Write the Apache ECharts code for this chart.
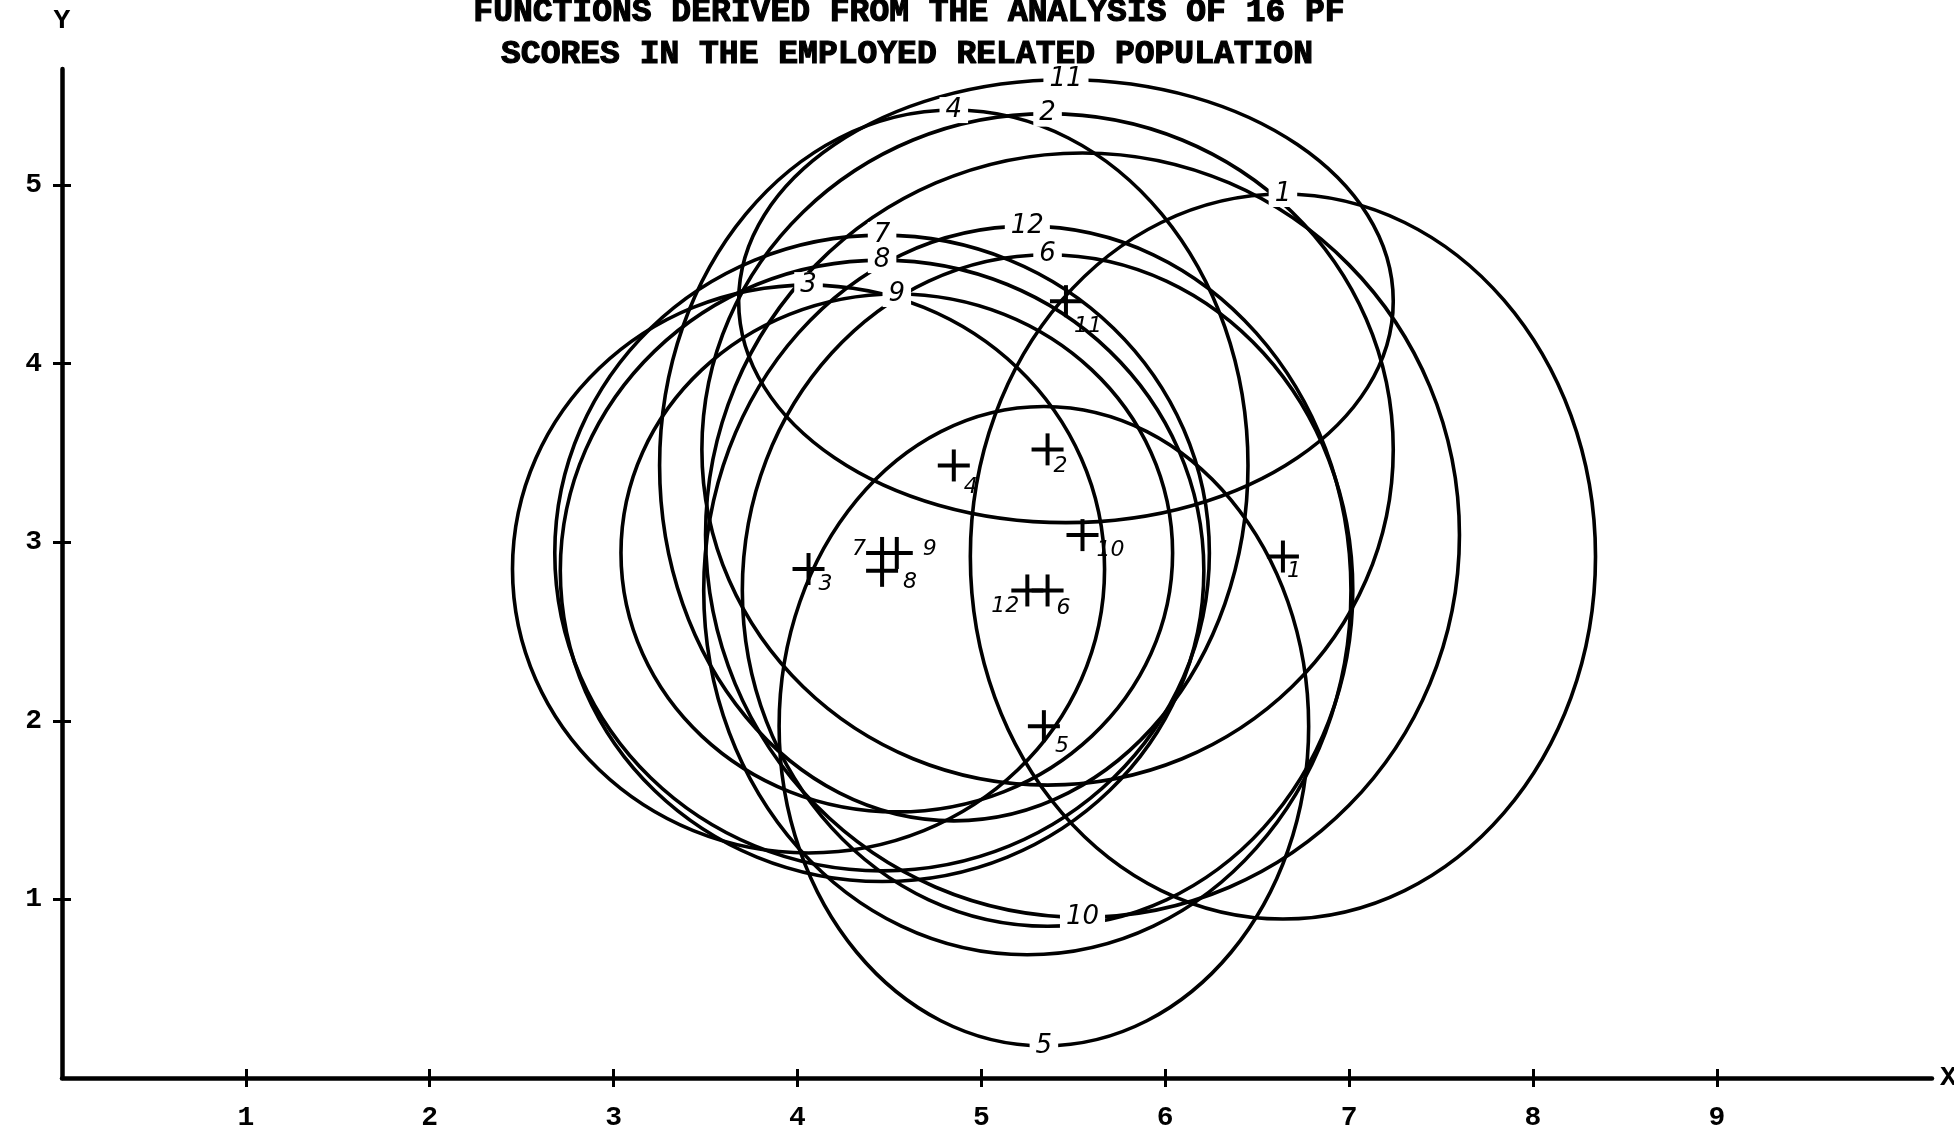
<!DOCTYPE html>
<html>
<head>
<meta charset="utf-8">
<script src="https://cdn.jsdelivr.net/npm/echarts@6/dist/echarts.min.js"></script>
<style>
  html, body { margin: 0; padding: 0; background: #fff; }
  #chart { width: 1954px; height: 1136px; }
</style>
</head>
<body>
<div id="chart"></div>
<script>
// group centroids (the "+" marks) and the ellipses drawn round them
const groups   = ['1', '2', '3', '4', '5', '6', '7', '8', '9', '10', '11', '12'];
const centerX  = [6.64, 5.36, 4.06, 4.85, 5.34, 5.36, 4.46, 4.46, 4.54, 5.55, 5.46, 5.25];
const centerY  = [2.92, 3.52, 2.85, 3.43, 1.97, 2.73, 2.94, 2.84, 2.94, 3.04, 4.35, 2.73];
const radiusX  = [1.70, 1.88, 1.61, 1.60, 1.44, 1.66, 1.78, 1.75, 1.50, 2.05, 1.78, 1.76];
const radiusY  = [2.03, 1.88, 1.59, 1.99, 1.79, 1.88, 1.78, 1.74, 1.45, 2.14, 1.24, 2.04];
// ellipses whose number is written at the bottom instead of the top
const tagAtBottom = ['5', '10'];

const xTicks = [1, 2, 3, 4, 5, 6, 7, 8, 9];
const yTicks = [1, 2, 3, 4, 5];

const titleLines = [
  'FUNCTIONS DERIVED FROM THE ANALYSIS OF 16 PF',
  'SCORES IN THE EMPLOYED RELATED POPULATION'
];

// where the little number sits next to each cross (pixels)
const crossTagOffset = {
  '1': [11, 15], '2': [13, 17], '3': [17, 15], '4': [17, 22], '5': [18, 20], '6': [16, 18],
  '7': [-23, -4], '8': [28, 11], '9': [33, -4], '10': [28, 15], '11': [22, 25], '12': [-22, 16]
};

const ringData = groups.map((g, i) => [centerX[i], centerY[i], radiusX[i], radiusY[i]]);
const crossData = groups.map((g, i) => [centerX[i], centerY[i]]);

const ink = '#000';

const chart = echarts.init(document.getElementById('chart'));

const baseX = {
  type: 'value', min: 0, max: 10.17, interval: 1,
  splitLine: { show: false }
};
const baseY = {
  type: 'value', min: 0, max: 5.65, interval: 1,
  splitLine: { show: false }
};
const tickFont = { color: ink, fontSize: 28, fontWeight: 'bold', fontFamily: 'Liberation Mono' };

const option = {
  backgroundColor: '#fff',
  animation: false,
  grid: { left: 62, right: 22, top: 69, bottom: 58, outerBoundsMode: 'none' },
  graphic: [
    { type: 'text', x: 909, y: 13, style: { text: titleLines[0], font: 'bold 33px "Liberation Mono"', fill: ink, stroke: ink, lineWidth: 1.2, align: 'center', verticalAlign: 'middle' } },
    { type: 'text', x: 907, y: 55, style: { text: titleLines[1], font: 'bold 33px "Liberation Mono"', fill: ink, stroke: ink, lineWidth: 1.2, align: 'center', verticalAlign: 'middle' } }
  ],
  xAxis: [
    Object.assign({}, baseX, {
      axisLine: { lineStyle: { color: ink, width: 4.5 } },
      axisTick: { customValues: xTicks, length: 9, lineStyle: { color: ink, width: 3 } },
      axisLabel: Object.assign({ customValues: xTicks, margin: 26 }, tickFont),
      name: 'X', nameLocation: 'end', nameGap: 8,
      nameTextStyle: tickFont
    }),
    Object.assign({}, baseX, {
      position: 'bottom',
      axisLine: { show: false },
      axisTick: { inside: true, customValues: xTicks, length: 9, lineStyle: { color: ink, width: 3 } },
      axisLabel: { show: false }
    })
  ],
  yAxis: [
    Object.assign({}, baseY, {
      axisLine: { lineStyle: { color: ink, width: 4.5 } },
      axisTick: { customValues: yTicks, length: 9, lineStyle: { color: ink, width: 3 } },
      axisLabel: Object.assign({ customValues: yTicks, margin: 20 }, tickFont),
      name: 'Y', nameLocation: 'end', nameGap: 34,
      nameTextStyle: Object.assign({ align: 'center' }, tickFont)
    }),
    Object.assign({}, baseY, {
      position: 'left',
      axisLine: { show: false },
      axisTick: { inside: true, customValues: yTicks, length: 9, lineStyle: { color: ink, width: 3 } },
      axisLabel: { show: false }
    })
  ],
  series: [
    {
      // the ellipses
      type: 'custom',
      data: ringData,
      z: 2,
      silent: true,
      renderItem: (params, api) => {
        const c = api.coord([api.value(0), api.value(1)]);
        const s = api.size([api.value(2), api.value(3)]);
        return {
          type: 'ellipse',
          shape: { cx: c[0], cy: c[1], rx: s[0], ry: s[1] },
          style: { fill: 'none', stroke: ink, lineWidth: 3.6 }
        };
      }
    },
    {
      // numbers written on the ellipses
      type: 'custom',
      data: ringData,
      z: 5,
      silent: true,
      renderItem: (params, api) => {
        const tag = groups[params.dataIndex];
        const c = api.coord([api.value(0), api.value(1)]);
        const s = api.size([api.value(2), api.value(3)]);
        const y = tagAtBottom.includes(tag) ? c[1] + s[1] : c[1] - s[1];
        return {
          type: 'text',
          x: c[0], y: y,
          style: {
            text: tag, font: 'italic 26px "DejaVu Sans"', fill: ink, align: 'center', verticalAlign: 'middle',
            backgroundColor: '#fff', padding: [0, 6]
          }
        };
      }
    },
    {
      // centroid crosses
      type: 'custom',
      data: crossData,
      z: 6,
      silent: true,
      renderItem: (params, api) => {
        const tag = groups[params.dataIndex];
        const c = api.coord([api.value(0), api.value(1)]);
        const off = crossTagOffset[tag];
        const arm = 16;
        return {
          type: 'group',
          children: [
            { type: 'line', shape: { x1: c[0] - arm, y1: c[1], x2: c[0] + arm, y2: c[1] }, style: { stroke: ink, lineWidth: 4 } },
            { type: 'line', shape: { x1: c[0], y1: c[1] - arm, x2: c[0], y2: c[1] + arm }, style: { stroke: ink, lineWidth: 4 } },
            { type: 'text', x: c[0] + off[0], y: c[1] + off[1], style: { text: tag, font: 'italic 22px "DejaVu Sans"', fill: ink, align: 'center', verticalAlign: 'middle' } }
          ]
        };
      }
    }
  ]
};

chart.setOption(option);
</script>
</body>
</html>
